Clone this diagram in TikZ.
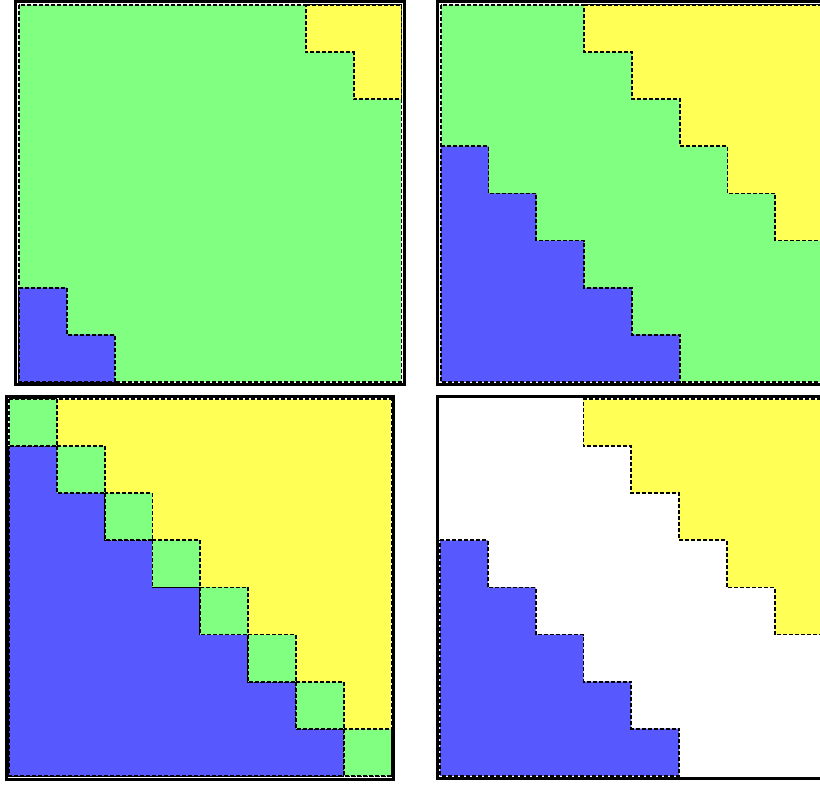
\documentclass[tikz,border=0pt]{standalone}
\usepackage{xcolor}
\usepackage{tikz}
\definecolor{cellgreen}{RGB}{128,255,128}
\definecolor{cellyellow}{RGB}{255,255,85}
\definecolor{cellblue}{RGB}{88,88,255}
\tikzset{
  panelframe/.style={draw=black, line width=3pt},
  region/.style={draw=black, dash pattern=on 4pt off 2pt, line width=1.8pt},
  greenreg/.style={region, fill=cellgreen},
  yellowreg/.style={region, fill=cellyellow},
  bluereg/.style={region, fill=cellblue},
  cellgrid/.style={x=47.8pt, y=-47.1pt}
}
\begin{document}
\begin{tikzpicture}[x=1pt, y=-1pt]
  \useasboundingbox (0,0) rectangle (820,785);
  \clip (0,0) rectangle (820,785);

  % top left
  \begin{scope}[shift={(19,5)}, cellgrid]
    \draw[panelframe] (-0.08,-0.07) rectangle (8.06,8.06);
    \draw[greenreg] (0,0) rectangle (8,8);
    \draw[yellowreg] (6,0) -- (8,0) -- (8,2) -- (7,2) -- (7,1) -- (6,1) -- cycle;
    \draw[bluereg] (0,6) -- (1,6) -- (1,7) -- (2,7) -- (2,8) -- (0,8) -- cycle;
  \end{scope}

  % top right
  \begin{scope}[shift={(440.7,5)}, cellgrid]
    \draw[panelframe] (-0.06,-0.07) rectangle (8.06,8.06);
    \draw[greenreg] (0,0) rectangle (8,8);
    \draw[yellowreg] (3,0) -- (8,0) -- (8,5) -- (7,5) -- (7,4) -- (6,4) -- (6,3)
      -- (5,3) -- (5,2) -- (4,2) -- (4,1) -- (3,1) -- cycle;
    \draw[bluereg] (0,3) -- (1,3) -- (1,4) -- (2,4) -- (2,5) -- (3,5) -- (3,6)
      -- (4,6) -- (4,7) -- (5,7) -- (5,8) -- (0,8) -- cycle;
  \end{scope}

  % bottom left
  \begin{scope}[shift={(9,399)}, cellgrid]
    \draw[panelframe] (-0.05,-0.05) rectangle (8.05,8.07);
    \draw[yellowreg] (0,0) rectangle (8,8);
    \draw[bluereg] (0,1) -- (1,1) -- (1,2) -- (2,2) -- (2,3) -- (3,3) -- (3,4) -- (4,4)
      -- (4,5) -- (5,5) -- (5,6) -- (6,6) -- (6,7) -- (7,7) -- (7,8) -- (0,8) -- cycle;
    \foreach \k in {0,...,7}
      \draw[greenreg] (\k,\k) rectangle (\k+1,\k+1);
  \end{scope}

  % bottom right
  \begin{scope}[shift={(440,399)}, cellgrid]
    \draw[panelframe] (-0.05,-0.05) rectangle (8.06,8.06);
    \draw[yellowreg] (3,0) -- (8,0) -- (8,5) -- (7,5) -- (7,4) -- (6,4) -- (6,3)
      -- (5,3) -- (5,2) -- (4,2) -- (4,1) -- (3,1) -- cycle;
    \draw[bluereg] (0,3) -- (1,3) -- (1,4) -- (2,4) -- (2,5) -- (3,5) -- (3,6)
      -- (4,6) -- (4,7) -- (5,7) -- (5,8) -- (0,8) -- cycle;
  \end{scope}
\end{tikzpicture}
\end{document}
